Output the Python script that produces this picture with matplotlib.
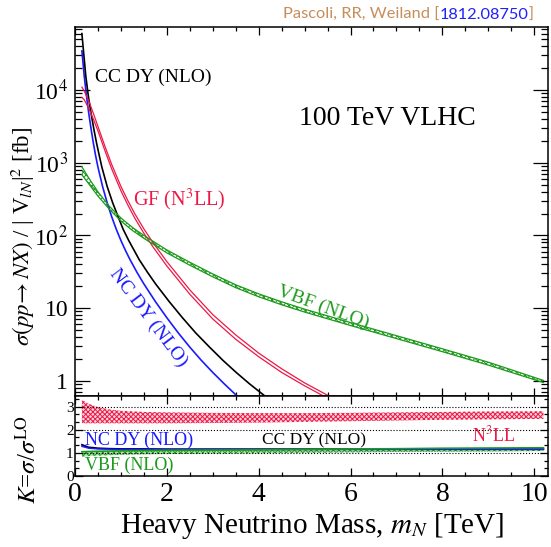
import numpy as np
import matplotlib
matplotlib.use("Agg")
import matplotlib.pyplot as plt
from matplotlib.ticker import MultipleLocator, LogLocator, NullFormatter

plt.rcParams["font.family"] = ["Liberation Serif", "DejaVu Serif"]
plt.rcParams["mathtext.fontset"] = "stix"
plt.rcParams["hatch.linewidth"] = 0.7

RED = "#ee1846"
BLUE = "#1a1aff"
GREEN = "#1c9a1c"

# upper panel: sigma / |V|^2 [fb] vs heavy neutrino mass [TeV]
ncdy_mass = [0.15, 0.2, 0.25, 0.3, 0.35, 0.4, 0.45, 0.5, 0.6, 0.7, 0.8, 0.9, 1.0, 1.1, 1.2,
             1.35, 1.5, 1.75, 2.0, 2.25, 2.5, 2.75, 3.0, 3.25, 3.5, 3.65]
ncdy_xsec = [34670, 15850, 8318, 4786, 2917, 1862, 1245, 871, 473, 282, 180, 121, 85.1, 61.9, 46.2,
             31.0, 21.5, 12.3, 7.36, 4.54, 2.90, 1.91, 1.30, 0.906, 0.641, 0.525]

ccdy_mass = [0.15, 0.234, 0.29, 0.35, 0.41, 0.47, 0.53, 0.585, 0.70, 0.82, 0.94, 1.05, 1.17, 1.29,
             1.40, 1.58, 1.755, 2.05, 2.34, 2.63, 2.93, 3.22, 3.51, 3.80, 4.10, 4.27]
ccdy_xsec = [60000, 15850, 8318, 4786, 2917, 1862, 1245, 871, 473, 282, 180, 121, 85.1, 61.9,
             46.2, 31.0, 21.5, 12.3, 7.36, 4.54, 2.90, 1.91, 1.30, 0.906, 0.641, 0.525]

gf_mass = [0.15, 0.2, 0.3, 0.4, 0.5, 0.65, 0.8, 1.0, 1.15, 1.3, 1.5, 1.7, 2.0, 2.5, 3.0, 3.5, 4.0,
           4.5, 5.0, 5.5, 5.6]
gf_hi = [11000, 9770, 7080, 4790, 3160, 1700, 944, 473, 302, 200, 123, 79.4, 43.6, 17.8, 8.13, 4.27,
         2.40, 1.46, 0.933, 0.631, 0.583]
gf_lo = [7940, 7410, 5620, 3980, 2750, 1480, 822, 412, 263, 174, 107, 69.2, 38.0, 15.5, 7.08, 3.72,
         2.14, 1.30, 0.851, 0.575, 0.532]

vbf_mass = [0.15, 0.3, 0.5, 0.75, 1.0, 1.25, 1.5, 2.0, 2.5, 3.0, 3.5, 4.0, 4.5, 5.0, 6.0, 7.0, 8.0,
            9.0, 10.2]
vbf_hi = [881, 617, 398, 251, 174, 129, 100, 63.1, 42.7, 29.5, 20.9, 15.7, 12.2, 9.66, 6.31, 4.17,
          2.75, 1.80, 1.01]
vbf_lo = [684, 513, 347, 229, 158, 117, 91.2, 57.5, 38.9, 26.9, 19.1, 14.3, 11.1, 8.81, 5.75, 3.80,
          2.51, 1.64, 0.944]

# lower panel: K-factors
k_mass = [0.15, 0.3, 0.5, 0.75, 1.0, 1.5, 2.0, 3.0, 4.0, 5.0, 6.0, 7.0, 8.0, 9.0, 10.2]
k_gf_hi = [3.30, 3.12, 2.98, 2.88, 2.82, 2.77, 2.75, 2.73, 2.72, 2.72, 2.73, 2.75, 2.77, 2.79, 2.80]
k_gf_lo = [2.28, 2.28, 2.28, 2.28, 2.28, 2.28, 2.28, 2.29, 2.31, 2.34, 2.37, 2.40, 2.43, 2.45, 2.47]
k_cc = [1.35, 1.24, 1.20, 1.18, 1.17, 1.17, 1.16, 1.16, 1.16, 1.16, 1.16, 1.16, 1.16, 1.16, 1.16]
k_nc = [1.28, 1.20, 1.17, 1.16, 1.15, 1.15, 1.15, 1.15, 1.15, 1.15, 1.15, 1.15, 1.15, 1.15, 1.15]
k_vbf_lo = [0.84, 0.86, 0.88, 0.90, 0.92, 0.94, 0.95, 0.97, 0.98, 1.00, 1.02, 1.04, 1.05, 1.06, 1.08]
k_vbf_hi = [1.05, 1.06, 1.07, 1.08, 1.09, 1.10, 1.11, 1.12, 1.13, 1.15, 1.17, 1.18, 1.20, 1.21, 1.22]

W, H = 551, 547
fig = plt.figure(figsize=(W / 100, H / 100), dpi=100)
ax = fig.add_axes([75 / W, 1 - 396 / H, 473 / W, 369 / H])
axk = fig.add_axes([75 / W, 1 - 476 / H, 473 / W, 80 / H], sharex=ax)

# cross sections
ax.plot(ncdy_mass, ncdy_xsec, color=BLUE, lw=1.2)
ax.plot(ccdy_mass, ccdy_xsec, color="black", lw=1.2)
ax.plot(gf_mass, gf_hi, color=RED, lw=0.9)
ax.plot(gf_mass, gf_lo, color=RED, lw=0.9)
ax.fill_between(vbf_mass, vbf_lo, vbf_hi, facecolor="white", edgecolor=GREEN,
                hatch="xxxxxx", lw=0)
ax.plot(vbf_mass, vbf_hi, color=GREEN, lw=0.9)
ax.plot(vbf_mass, vbf_lo, color=GREEN, lw=0.9)

ax.set_yscale("log")
ax.set_xlim(0, 10.3)
ax.set_ylim(0.616, 7.4e4)
ax.set_yticks([1, 10, 100, 1000, 10000])
ax.set_yticklabels(["1", "10", "10$^2$", "10$^3$", "10$^4$"])
ax.yaxis.set_minor_locator(LogLocator(base=10, subs=np.arange(2, 10), numticks=20))
ax.yaxis.set_minor_formatter(NullFormatter())
ax.tick_params(axis="x", labelbottom=False)

ax.text(0.435, 15100, "CC DY (NLO)", fontsize=14, ha="left", va="center")
ax.text(4.88, 4120, "100 TeV VLHC", fontsize=20, ha="left", va="center")
ax.text(1.26, 307, "GF (N$^3$LL)", fontsize=14.5, color=RED, ha="left", va="center")
ax.text(1.59, 7.3, "NC DY (NLO)", fontsize=14, color=BLUE, rotation=-53,
        ha="center", va="center", rotation_mode="anchor")
ax.text(5.40, 10.35, "VBF (NLO)", fontsize=14, color=GREEN, rotation=-20,
        ha="center", va="center", rotation_mode="anchor")

# K-factors
for lvl in [1, 2, 3]:
    axk.axhline(lvl, color="black", ls=":", lw=0.8)
axk.fill_between(k_mass, k_gf_lo, k_gf_hi, facecolor="#fbd3dc", edgecolor=RED,
                 hatch="xxxxxxx", lw=0)
axk.plot(k_mass, k_cc, color="#000040", lw=1.3)
axk.plot(k_mass, k_nc, color=BLUE, lw=1.0)
axk.fill_between(k_mass, k_vbf_lo, k_vbf_hi, facecolor="#b5e0b5", edgecolor=GREEN,
                 hatch="xxxxxx", lw=0)
axk.plot(k_mass, k_vbf_hi, color=GREEN, lw=1.2)

axk.set_ylim(0, 3.46)
axk.set_yticks([0, 1, 2, 3])
axk.yaxis.set_minor_locator(MultipleLocator(1 / 3))
axk.xaxis.set_major_locator(MultipleLocator(2))
axk.xaxis.set_minor_locator(MultipleLocator(0.5))

axk.text(0.218, 1.56, "NC DY (NLO)", fontsize=13, color=BLUE, ha="left", va="center")
axk.text(4.07, 1.54, "CC DY (NLO)", fontsize=12.5, ha="left", va="center")
axk.text(8.64, 1.77, "N$^3$LL", fontsize=13, color=RED, ha="left", va="center")
axk.text(0.218, 0.48, "VBF (NLO)", fontsize=13, color=GREEN, ha="left", va="center")

for a in (ax, axk):
    for s in a.spines.values():
        s.set_linewidth(1.1)
    a.tick_params(which="both", direction="in", top=True, right=True, width=0.9)
ax.tick_params(axis="y", which="major", length=11, labelsize=17, pad=5)
ax.tick_params(axis="y", which="minor", length=5)
ax.tick_params(axis="x", which="major", length=6)
ax.tick_params(axis="x", which="minor", length=3)
axk.tick_params(axis="y", which="major", length=6, labelsize=11, pad=1)
axk.tick_params(axis="y", which="minor", length=3)
axk.tick_params(axis="x", which="major", length=6, labelsize=20, pad=4)
axk.tick_params(axis="x", which="minor", length=3)

fig.text(23 / W, 1 - 236 / H, r"$\sigma(pp\!\rightarrow NX)$ / | V$_{lN}$|$^2$ [fb]",
         rotation=90, fontsize=16.5, ha="center", va="center")
fig.text(28 / W, 1 - 460 / H, r"$K$=$\sigma$/$\sigma^{\rm LO}$",
         rotation=90, fontsize=18, ha="center", va="center")
fig.text(312 / W, 1 - 526 / H, r"Heavy Neutrino Mass, $m_N$ [TeV]",
         fontsize=21, ha="center", va="center")

# reference tag on top
TAN = "#c78d5b"
t1 = fig.text(283 / W, 1 - 22 / H, "Pascoli, RR, Weiland [", color=TAN,
              fontsize=11.8, family="Lato", va="bottom")
t2 = ax.annotate("1812.08750", xy=(1, 0), xycoords=t1, color="#2020ff",
                 fontsize=11.8, family="Lato", va="bottom")
ax.annotate("]", xy=(1, 0), xycoords=t2, color=TAN, fontsize=11.8,
            family="Lato", va="bottom")

fig.savefig("out.png", dpi=100)
